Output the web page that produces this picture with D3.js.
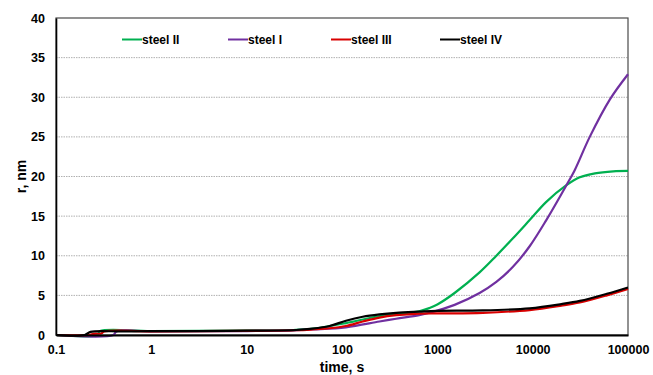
<!DOCTYPE html>
<html>
<head>
<meta charset="utf-8">
<script src="https://cdnjs.cloudflare.com/ajax/libs/d3/7.8.5/d3.min.js"></script>
<style>
    body { margin: 0; background: #fff; }
    text { font-family: Arial, "Liberation Sans", sans-serif; font-weight: bold; }
</style>
</head>
<body>
<div id="graph"></div>
<script>
// Canvas Info
var CanvasInfo = {
    width: 653,
    height: 375,
    id: "#graph"
};

// Plot margins
var MarginInfo = {
    left: 56,
    right: 25,
    top: 18,
    bottom: 40
};

// Series names and colours
var seriesNames = ["steel II", "steel I", "steel III", "steel IV"];
var seriesColors = ["#00b050", "#7030a0", "#d80000", "#000000"];

// Tick labels
var xTicks = [0.1, 1, 10, 100, 1000, 10000, 100000];
var yTicks = [0, 5, 10, 15, 20, 25, 30, 35, 40];

// Values: [time s, r nm]
var steelII = [[0.1, 0], [0.27, 0], [0.29, 0.5], [1, 0.5], [10, 0.55], [30, 0.62], [50, 0.8],
               [110, 1.5], [250, 2.4], [645, 3.0], [828, 3.4], [1000, 3.85], [1517, 5.3],
               [2773, 7.9], [4160, 10.0], [6210, 12.2], [9300, 14.5], [13900, 16.8], [22600, 18.9],
               [31200, 19.9], [45000, 20.4], [70000, 20.65], [100000, 20.7]];
var steelI = [[0.1, 0], [0.4, 0], [0.43, 0.45], [1, 0.47], [10, 0.5], [30, 0.58], [50, 0.7],
              [110, 0.97], [247, 1.7], [370, 2.05], [645, 2.5], [828, 2.8], [1517, 3.8], [2773, 5.3],
              [4160, 6.7], [6210, 8.6], [9300, 11.2], [13900, 14.5], [22600, 18.9], [27600, 20.8],
              [39700, 25.0], [64400, 29.7], [100000, 32.9]];
var steelIII = [[0.1, 0], [0.22, 0], [0.25, 0.15], [0.3, 0.2], [0.32, 0.45], [1, 0.47], [10, 0.52],
                [33, 0.6], [49, 0.7], [74, 0.85], [110, 1.14], [165, 1.7], [247, 2.2], [370, 2.5],
                [645, 2.7], [1240, 2.72], [3000, 2.8], [9300, 3.15], [20000, 3.7], [31200, 4.1],
                [60000, 5.0], [100000, 5.8]];
var steelIV = [[0.1, 0], [0.2, 0], [0.23, 0.4], [0.5, 0.45], [1, 0.48], [3, 0.5], [10, 0.55],
               [33, 0.63], [49, 0.8], [74, 1.14], [110, 1.8], [165, 2.3], [247, 2.6], [370, 2.8],
               [645, 2.95], [1000, 3.05], [3000, 3.1], [9300, 3.37], [20000, 3.9], [31200, 4.3],
               [60000, 5.2], [100000, 6.0]];

var seriesData = [steelII, steelI, steelIII, steelIV];

function SetupPlot()
{
    var svg = d3.select(CanvasInfo.id)
                .append("svg")
                .attr("width", CanvasInfo.width)
                .attr("height", CanvasInfo.height);

    var width = CanvasInfo.width - MarginInfo.left - MarginInfo.right;
    var height = CanvasInfo.height - MarginInfo.top - MarginInfo.bottom;

    var canvas = svg.append("g")
                    .attr("transform", "translate(" + MarginInfo.left + "," + MarginInfo.top + ")");

    var xAxis = d3.scaleLog().domain([0.1, 100000]).range([0, width]);
    var yAxis = d3.scaleLinear().domain([0, 40]).range([height, 0]);

    // dotted gridlines
    canvas.append("g")
          .selectAll("line")
          .data(yTicks.filter(function(v) { return v > 0 && v < 40; }))
          .enter()
          .append("line")
          .attr("x1", 0)
          .attr("x2", width)
          .attr("y1", function(v) { return yAxis(v); })
          .attr("y2", function(v) { return yAxis(v); })
          .style("stroke", "#b0b0b0")
          .style("stroke-width", 1)
          .style("stroke-dasharray", "1.5,1");

    // frame top and right
    canvas.append("rect")
          .attr("x", 0)
          .attr("y", 0)
          .attr("width", width)
          .attr("height", height)
          .style("fill", "none")
          .style("stroke", "#4a4a4a")
          .style("stroke-width", 1.2);

    // lines
    var lineLambda = d3.line()
                       .x(function(p) { return xAxis(p[0]); })
                       .y(function(p) { return yAxis(p[1]); })
                       .curve(d3.curveCatmullRom.alpha(0.5));

    for (var i = 0; i < seriesData.length; ++i)
    {
        canvas.append("path")
              .datum(seriesData[i])
              .attr("d", lineLambda)
              .style("fill", "none")
              .style("stroke", seriesColors[i])
              .style("stroke-width", 2.2);
    }

    // axes
    var bottomAxis = canvas.append("g")
                           .attr("transform", "translate(0," + height + ")")
                           .call(d3.axisBottom(xAxis)
                                   .tickValues(xTicks)
                                   .tickSize(0)
                                   .tickPadding(10)
                                   .tickFormat(function(v) { return String(v); }));
    bottomAxis.select(".domain").style("stroke", "#000").style("stroke-width", 2);
    bottomAxis.selectAll("text").style("font-size", "12.5px").style("fill", "#000");

    var leftAxis = canvas.append("g")
                         .call(d3.axisLeft(yAxis)
                                 .tickValues(yTicks)
                                 .tickSize(0)
                                 .tickPadding(11));
    leftAxis.select(".domain").style("stroke", "#000").style("stroke-width", 1.6);
    leftAxis.selectAll("text").style("font-size", "12.5px").style("fill", "#000");

    // axis titles
    svg.append("text")
       .attr("x", MarginInfo.left + xAxis(100))
       .attr("y", 372)
       .attr("text-anchor", "middle")
       .style("font-size", "14px")
       .text("time, s");

    svg.append("text")
       .attr("transform", "translate(26," + (MarginInfo.top + yAxis(20)) + ") rotate(-90)")
       .attr("text-anchor", "middle")
       .style("font-size", "14px")
       .text("r, nm");

    // legend
    var legendX = [122, 228, 331, 440];
    var legend = svg.append("g");
    for (var j = 0; j < seriesNames.length; ++j)
    {
        legend.append("line")
              .attr("x1", legendX[j])
              .attr("x2", legendX[j] + 20)
              .attr("y1", 39.5)
              .attr("y2", 39.5)
              .style("stroke", seriesColors[j])
              .style("stroke-width", 2);
        legend.append("text")
              .attr("x", legendX[j] + 20)
              .attr("y", 43.5)
              .style("font-size", "12px")
              .text(seriesNames[j]);
    }
}

SetupPlot();
</script>
</body>
</html>
